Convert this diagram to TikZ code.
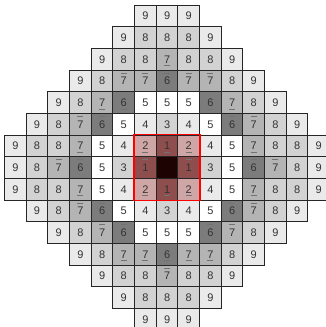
\documentclass[tikz,border=0pt]{standalone}
\usepackage{fontspec}
\setmainfont{Liberation Sans}
\usepackage{tikz}

\definecolor{dist9}{HTML}{EAEAEA}
\definecolor{dist8}{HTML}{D2D2D2}
\definecolor{dist7}{HTML}{B4B4B4}
\definecolor{dist6}{HTML}{7C7C7C}
\definecolor{dist5}{HTML}{FFFFFF}
\definecolor{dist4}{HTML}{EAEAEA}
\definecolor{dist3}{HTML}{D2D2D2}
\definecolor{dist2}{HTML}{CFA6A6}
\definecolor{dist1}{HTML}{8E4E4E}
\definecolor{dist0}{HTML}{1E0303}

% digit marks: plain, bar above, bar below, empty
\newcommand{\mkn}[1]{#1}
\newcommand{\mko}[1]{\rlap{\smash{\color{black!55}\rule[11.5pt]{6pt}{0.7pt}}}#1}
\newcommand{\mku}[1]{\rlap{\smash{\color{black!55}\rule[-3pt]{6pt}{0.7pt}}}#1}
\newcommand{\mkz}[1]{}

\begin{document}
\begin{tikzpicture}[x=21.67pt,y=-21.67pt,
  cell/.style={draw=black!85,line width=0.9pt,minimum size=21.67pt,inner sep=0pt,
    text height=8pt,text depth=0pt,text=black!80,font=\fontsize{11}{13}\selectfont}]
\useasboundingbox (-0.21,-0.23) rectangle (14.79,14.86);
\foreach \r/\first/\cells in {
  0/6/{9/n,9/n,9/n},
  1/5/{9/n,8/n,8/n,8/n,9/n},
  2/4/{9/n,8/n,8/n,7/u,8/n,8/n,9/n},
  3/3/{9/n,8/n,7/o,7/o,6/o,7/o,7/o,8/n,9/n},
  4/2/{9/n,8/n,7/u,6/u,5/n,5/n,5/n,6/u,7/u,8/n,9/n},
  5/1/{9/n,8/n,7/o,6/o,5/n,4/n,3/n,4/n,5/n,6/o,7/o,8/n,9/n},
  6/0/{9/n,8/n,8/n,7/u,5/n,4/n,2/u,1/u,2/u,4/n,5/n,7/u,8/n,8/n,9/n},
  7/0/{9/n,8/n,7/o,6/o,5/n,3/n,1/o,0/z,1/o,3/n,5/n,6/o,7/o,8/n,9/n},
  8/0/{9/n,8/n,8/n,7/u,5/n,4/n,2/u,1/u,2/u,4/n,5/n,7/u,8/n,8/n,9/n},
  9/1/{9/n,8/n,7/o,6/o,5/n,4/n,3/n,4/n,5/n,6/o,7/o,8/n,9/n},
  10/2/{9/n,8/n,7/o,6/o,5/n,5/n,5/n,6/o,7/o,8/n,9/n},
  11/3/{9/n,8/n,7/u,7/u,6/u,7/u,7/u,8/n,9/n},
  12/4/{9/n,8/n,8/n,7/o,8/n,8/n,9/n},
  13/5/{9/n,8/n,8/n,8/n,9/n},
  14/6/{9/n,9/n,9/n}}{
  \foreach \v/\m [count=\i from 0] in \cells {
    \pgfmathtruncatemacro{\col}{\first+\i}
    \node[cell,fill=dist\v] (p-\r-\col) at (\col+0.5,\r+0.5) {\csname mk\m\endcsname{\v}};
  }
}
\draw[red,line width=1.6pt] (p-6-6.north west) rectangle (p-8-8.south east);
\end{tikzpicture}
\end{document}
